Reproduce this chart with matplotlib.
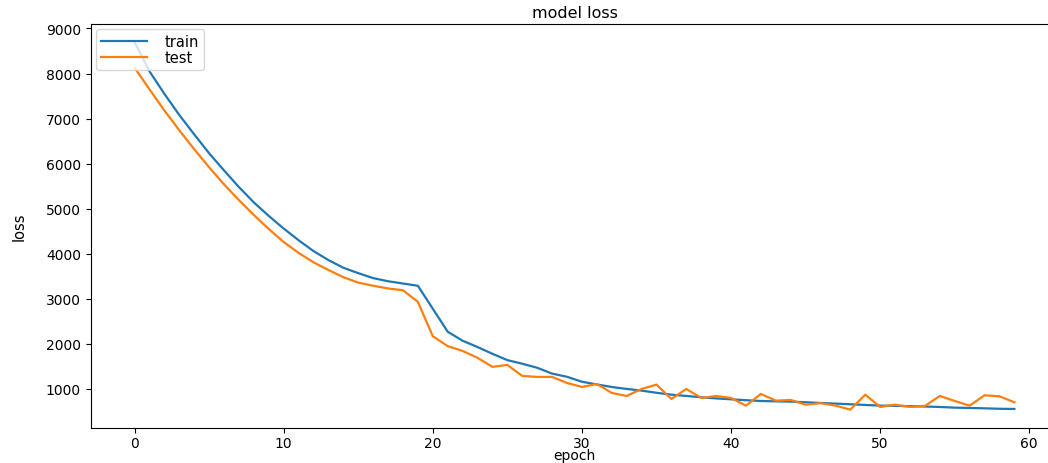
import numpy as np
import matplotlib
matplotlib.use("Agg")
import matplotlib.pyplot as plt

# loss history
train_loss = [8700, 8050, 7550, 7080, 6650, 6230, 5850, 5480, 5140, 4840,
              4560, 4300, 4060, 3860, 3690, 3570, 3460, 3390, 3340, 3290,
              2780, 2270, 2070, 1930, 1780, 1640, 1560, 1470, 1340, 1270,
              1160, 1100, 1044, 1000, 963, 915, 873, 845, 815, 790,
              770, 750, 733, 725, 719, 705, 689, 675, 660, 645,
              630, 625, 618, 610, 600, 585, 578, 570, 560, 556]
test_loss = [8130, 7650, 7180, 6740, 6320, 5920, 5540, 5190, 4860, 4550,
             4260, 4020, 3810, 3640, 3480, 3360, 3290, 3230, 3190, 2933,
             2170, 1950, 1844, 1690, 1490, 1533, 1289, 1267, 1267, 1133,
             1044, 1111, 911, 844, 1000, 1096, 778, 1000, 800, 844,
             800, 629, 889, 740, 756, 651, 685, 630, 541, 874,
             600, 652, 600, 622, 844, 733, 630, 859, 837, 704]
epochs = np.arange(len(train_loss))

fig = plt.figure(figsize=(10.48, 4.64), dpi=100)
ax = fig.add_axes([0.0864, 0.0754, 0.9235, 0.8716])

ax.plot(epochs, train_loss, color="#1f77b4", lw=1.6, label="train")
ax.plot(epochs, test_loss, color="#ff7f0e", lw=1.6, label="test")

ax.set_title("model loss", fontsize=11.5, pad=5)
ax.set_xlabel("epoch", fontsize=10, labelpad=-1)
ax.set_ylabel("loss", fontsize=10.5, labelpad=14)
ax.tick_params(labelsize=10)
ax.tick_params(axis="x", pad=2)
ax.legend(loc="upper left", fontsize=10.5, borderaxespad=0.4,
          labelspacing=0.1, handlelength=3.2, handletextpad=1.2,
          borderpad=0.3)

fig.savefig("out.png", dpi=100)
